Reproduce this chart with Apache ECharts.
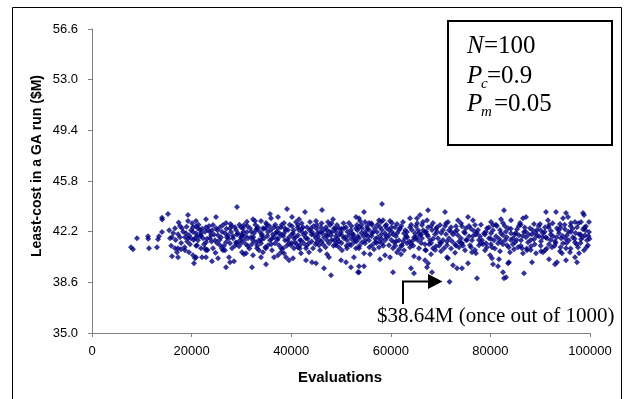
<!DOCTYPE html>
<html>
<head>
<meta charset="utf-8">
<script src="https://cdn.jsdelivr.net/npm/echarts@6/dist/echarts.min.js"></script>
<style>
html,body{margin:0;padding:0;background:#fff;}
#chart{width:625px;height:399px;}
</style>
</head>
<body>
<div id="chart"></div>
<script>
// Tick labels
const xTicks = [0, 20000, 40000, 60000, 80000, 100000];
const yTicks = ['35.0', '38.6', '42.2', '45.8', '49.4', '53.0', '56.6'];
const yBase = 35.0;
const yStep = 3.6;

// [evaluations, least cost ($M)]
const leastCostRuns = [
[7830,41.10],[8230,40.95],[9040,41.74],[11240,41.88],[11300,41.70],[11450,41.02],[13050,41.10],[13250,41.67],[13450,41.88],[14060,42.17],
[14060,43.18],[14100,43.06],[15260,43.45],[15660,41.74],[16060,41.81],[16670,42.45],[16670,41.02],[17070,40.74],[17270,41.02],[17270,42.02],
[17670,42.60],[17670,41.81],[17870,40.95],[18070,42.45],[16060,40.45],[17270,40.38],
[29120,43.95],[19280,43.38],[19280,42.95],[20880,42.95],[22890,43.09],[24900,43.24],[20280,42.52],[20880,42.59],[21290,42.45],[20280,42.17],
[20880,42.09],[21690,42.31],[22890,42.52],[23290,42.31],[23690,42.17],[18880,42.09],[18670,41.81],[19280,41.74],[19880,41.74],[20680,41.74],
[21290,41.59],[21890,41.95],[22290,41.74],[22890,41.45],[23690,41.74],[23900,41.95],[18670,40.88],[19480,40.74],[20280,40.52],[20880,40.38],
[20680,40.31],[20480,39.95],[21890,41.02],[22690,41.02],[22890,40.88],[22090,40.38],[22890,40.38],[24300,41.02],[24100,40.10],[25300,40.31],
[26910,39.67],[27710,40.02],[26710,40.88],[25700,42.52],[26310,42.67],[26910,42.81],[25300,41.95],[25900,41.81],[26710,42.09],[27310,41.95],
[27710,42.45],[27910,42.17],[28710,42.52],[28920,42.31],[29320,42.09],[28310,41.74],[28920,41.45],[29720,41.59],[29920,41.81],[26910,41.45],
[27710,41.38],[29920,42.52],[21690,41.88],[19680,41.31],[21090,41.24],[24700,41.59],[24900,42.45],[24300,42.67],[25700,41.24],[26310,40.88],
[28110,41.02],[29520,41.17],[30120,40.74],[27510,40.38],[28510,40.10],
[39160,43.81],[35740,43.45],[35940,43.16],[37350,43.24],[40160,43.24],[32330,43.09],[32730,42.95],[33940,42.95],[34940,42.81],[38550,42.81],
[40960,42.88],[41370,42.67],[30520,42.67],[30320,42.45],[33330,42.52],[32930,42.31],[32530,42.09],[31930,41.81],[31320,41.74],[30520,41.59],
[34940,42.45],[35340,42.17],[35940,42.31],[36550,42.52],[37350,42.45],[37950,42.52],[32330,41.59],[32930,41.45],[33530,41.59],[33940,41.38],
[34540,41.74],[36550,41.81],[37350,41.74],[37950,41.95],[38550,42.09],[39360,42.31],[39560,41.81],[40360,42.09],[40560,41.74],[41370,41.95],
[41570,42.31],[30920,40.67],[30520,40.60],[32330,40.52],[33530,40.88],[33940,40.38],[34940,41.02],[35340,41.24],[36550,40.38],[37350,40.52],
[37950,40.74],[38550,40.67],[38960,40.38],[39560,40.17],[40360,40.31],[32130,39.67],[34940,39.88],[39960,41.24],[40560,41.02],[41370,41.10],
[31120,42.17],[31730,42.45],[34140,42.02],[34340,42.45],[35740,41.59],[36750,41.38],[37550,41.24],[38760,41.59],[39560,41.38],[40760,41.45],
[41770,41.59],[36950,42.09],[38760,42.45],[40160,42.59],[31320,41.17],[33130,41.02],[34340,40.74],[36140,40.88],[38350,41.02],[30120,42.02],
[30920,41.31],
[46180,43.74],[42770,43.59],[48390,43.09],[53010,43.24],[41570,43.09],[44980,42.95],[45180,42.67],[45980,42.52],[46990,42.52],[47190,42.31],
[43170,42.52],[43980,42.45],[44180,42.17],[44580,41.95],[44980,41.74],[45180,41.45],[45580,41.24],[42170,42.17],[42570,41.95],[42970,41.74],
[41970,41.59],[46180,42.09],[46590,41.81],[47190,41.59],[47590,41.38],[47990,41.95],[48190,42.17],[48590,42.45],[49200,42.67],[49600,42.45],
[50000,42.17],[50200,41.95],[50600,41.74],[51000,42.52],[51600,42.81],[52000,42.31],[52200,42.09],[52600,41.81],[53000,42.45],[53200,42.67],
[49000,41.24],[49600,41.10],[50200,40.88],[51200,41.02],[52000,41.24],[53000,41.02],[41970,40.67],[42970,41.02],[43570,40.74],[42970,40.17],
[44180,40.02],[44980,39.95],[47190,40.60],[47590,40.38],[46590,39.60],[47990,39.10],[50000,40.17],[51000,40.02],[52000,39.67],[52600,40.38],
[53410,39.31],[41770,41.24],[43570,41.38],[44380,41.02],[45780,40.88],[46390,41.31],[48590,41.59],[49000,41.88],[49600,41.52],[51200,41.59],
[51600,41.95],[52600,41.45],[53410,41.88],[42370,42.52],[43780,42.88],[47390,42.88],[50600,42.45],[45780,42.17],[45380,41.88],[49000,42.17],
[47790,42.67],
[58230,44.16],[54620,43.59],[57630,43.02],[58030,42.88],[58430,43.02],[59840,42.95],[60240,42.81],[63850,43.16],[53610,43.16],[53810,42.95],
[54820,42.88],[55620,42.81],[56220,42.67],[53610,42.52],[54220,42.45],[54820,42.17],[55620,42.31],[56220,42.09],[56830,42.45],[57230,42.17],
[57830,42.52],[58230,42.31],[58830,42.09],[59240,42.45],[59640,41.95],[60240,42.17],[60840,42.52],[61650,42.31],[61850,42.45],[62650,42.09],
[63250,42.17],[63850,42.52],[64260,42.31],[64660,41.81],[64860,42.09],[53610,41.74],[54220,41.45],[54820,41.38],[55620,41.59],[56220,41.24],
[56830,41.45],[57630,41.10],[58230,41.38],[58830,41.59],[59640,41.24],[60640,41.45],[61650,41.59],[62250,41.24],[63250,41.38],[63850,41.10],
[54620,40.67],[55820,40.60],[57830,40.24],[58830,40.52],[59840,40.38],[61250,40.74],[62050,40.60],[64660,40.45],[53610,41.02],[53610,39.74],
[54620,39.74],[53610,39.31],[60440,39.31],[64060,39.60],[64660,39.24],[55420,41.88],[57430,41.81],[59040,41.88],[61050,41.88],[62850,41.74],
[64260,41.52],[56630,40.95],[60440,41.02],[62650,40.88],[55220,42.59],[61250,42.74],[62450,42.88],
[67470,43.73],[70880,43.59],[65860,43.38],[65260,43.16],[71480,42.88],[73490,43.02],[75500,43.24],[66260,42.67],[66460,42.88],[67270,43.02],
[68470,42.81],[69280,42.52],[69880,42.67],[65460,42.31],[65860,41.95],[65460,41.59],[66260,41.74],[66870,42.17],[67470,41.88],[67870,41.59],
[66870,41.31],[68270,42.31],[68870,42.02],[69480,41.74],[69880,41.45],[69080,41.17],[70480,42.31],[71080,42.02],[71690,41.74],[72290,41.52],
[71280,41.24],[72890,42.17],[73490,41.95],[74090,41.74],[74700,42.17],[75100,42.45],[75700,41.88],[76300,41.59],[75900,41.24],[76710,42.24],
[72090,42.52],[73090,42.59],[74300,42.59],[65660,41.02],[67070,40.88],[68470,41.02],[70080,40.81],[70680,41.02],[73690,41.10],[74900,40.88],
[76300,40.74],[67470,42.52],[65060,42.59],[72890,41.31],[74300,41.38],[68070,40.60],[65660,40.31],[66870,40.17],[71280,40.38],[71480,40.31],
[67470,39.95],[67270,39.67],[68270,39.31],[72490,39.81],[74300,39.60],[73290,39.60],[75500,39.95],[71800,38.64],
[82730,43.73],[91160,43.59],[93170,43.59],[95180,43.52],[95580,43.24],[98590,43.52],[98790,43.38],[87150,43.24],[86540,43.16],[99800,42.88],
[82130,43.09],[82530,42.81],[84140,43.02],[80120,42.88],[80520,42.67],[76500,43.02],[76910,42.67],[88750,42.74],[91560,43.02],[91770,42.67],
[94580,43.16],[96180,42.81],[98190,42.88],[77310,38.89],[80320,40.31],[81730,40.24],[80520,39.88],[81530,39.74],[83530,39.95],[83730,40.02],
[82530,39.31],[82730,38.89],[84740,40.95],[86340,41.02],[86540,40.67],[86750,39.24],[88350,40.02],[90160,40.81],[90560,40.74],[91770,40.24],
[92970,39.88],[93370,40.02],[95180,40.17],[96990,40.38],[97790,40.67],[83130,38.96],[97390,40.02],[94380,40.67],
[77510,42.31],[77910,41.88],[78310,41.59],[77710,41.24],[78710,42.09],[79320,42.45],[79720,41.74],[79120,41.38],[80120,42.09],[80720,41.59],
[81120,41.88],[80320,41.10],[81530,41.38],[81930,42.31],[82530,41.95],[82930,41.59],[83330,41.24],[83530,42.45],[84140,42.09],[84540,41.74],
[84940,41.45],[85340,42.38],[85740,41.95],[86140,41.59],[85540,41.10],[86750,42.17],[87150,41.81],[87550,41.45],[87950,42.45],[88350,42.02],
[88750,41.67],[88150,41.17],[89360,42.31],[89760,41.88],[90160,41.52],[90560,42.09],[90960,42.52],[91360,41.74],[91770,41.31],[92170,42.24],
[92570,41.88],[92970,41.52],[92370,41.10],[93370,42.45],[93770,42.09],[94180,41.74],[94580,41.38],[94980,42.38],[95380,41.95],[95780,41.59],
[95180,41.02],[96180,42.17],[96580,41.81],[96990,41.45],[97390,42.52],[97790,42.02],[98190,41.67],[97590,41.10],[98590,42.38],[98990,41.95],
[99390,41.59],[99800,42.17],[99590,41.24],[99190,42.59],[83930,40.74],[87350,40.88],[89160,40.67],[90960,40.88],[93970,40.81],[95980,40.74],
[98790,40.88],[81930,40.81],[78910,40.88],[77100,40.67],[79920,40.52],[85940,42.81],[89960,42.74],[93970,42.74],[96990,42.88],
[15500,42.30],[15900,41.20],[16300,42.10],[16800,41.60],[17400,42.85],[17900,41.40],[18300,42.20],[18600,41.10],[19000,42.55],[19500,41.95],
[19900,42.30],[20400,41.60],[20900,41.20],[21400,42.70],[21900,42.10],[22500,41.30],[22700,42.20],[23200,40.90],[23500,42.60],[24000,41.50],
[24500,42.00],[24800,40.70],[25200,42.30],[25600,41.60],[26100,42.20],[26500,41.20],[27000,42.40],[27400,41.70],[27800,42.75],[28300,41.90],
[28700,41.20],[29100,42.00],[29600,42.70],[30000,41.40],[30400,42.20],[30800,41.90],[31200,42.60],[31600,41.00],[32000,42.20],[32400,41.80],
[32800,42.70],[33200,41.20],[33700,42.20],[34000,41.60],[34500,42.40],[34800,41.10],[35200,41.90],[35600,42.60],[36000,41.30],[36300,42.00],
[36800,42.70],[37200,41.60],[37600,42.10],[38000,41.00],[38400,41.90],[38900,42.30],[39300,41.60],[39700,42.70],[40100,41.40],[40500,42.30],
[40900,41.80],[41300,42.50],[41700,41.00],[42100,42.40],[42500,41.40],[42900,42.10],[43300,41.70],[43700,42.30],[44100,41.50],[44500,42.60],
[44900,41.30],[45300,42.10],[45700,41.60],[46100,42.80],[46500,42.30],[46900,41.10],[47300,41.90],[47700,42.20],[48100,41.60],[48500,41.20],
[48900,42.40],[49300,41.70],[49700,42.00],[50100,41.40],[50500,42.80],[50900,41.80],[51300,42.20],[51700,41.30],[52100,42.60],[52500,42.00],
[52900,41.60],[53300,42.30],[53700,41.20],[54100,42.10],[54500,41.90],[54900,41.60],[55300,42.40],[55700,41.10],[56100,41.90],[56500,42.20],
[56900,41.70],[57300,42.70],[57700,41.50],[58100,42.00],[58500,41.20],[58900,42.60],[59300,41.80],[59700,42.30],[60100,41.60],[60500,42.00],
[60900,41.20],[61300,42.10],[61700,40.95],[62100,42.60],[62500,41.50],[62900,42.30],[63300,41.80],[63700,41.50],[64100,42.70],[64500,41.20],
[64900,41.70],[65300,42.80],[65700,42.10],[66100,41.40],[66500,42.30],[66900,40.90],[67300,42.00],[67700,41.30],[68100,42.60],[68500,41.70],
[68900,40.90],[69300,42.20],[69700,41.20],[70100,42.10],[70500,41.60],[70900,42.60],[71300,41.50],[71700,42.30],[72100,41.00],[72500,42.00],
[72900,40.70],[73300,42.30],[73700,41.50],[74100,42.80],[74500,41.20],[74900,42.10],[75300,41.60],[75700,42.60],[76100,41.10],[76500,41.90],
[76900,40.90],[77300,42.10],[77700,41.60],[78100,42.70],[78500,41.30],[78900,42.00],[79300,41.10],[79700,42.50],[80100,41.30],[80500,42.30],
[80900,41.00],[81300,42.60],[81700,41.70],[82100,42.10],[82500,41.30],[82900,42.60],[83300,41.80],[83700,41.10],[84100,42.40],[84500,41.30],
[84900,42.00],[85300,41.60],[85700,42.60],[86100,41.20],[86500,41.90],[86900,42.50],[87300,41.00],[87700,42.00],[88100,41.60],[88500,42.30],
[88900,41.30],[89300,41.90],[89700,42.60],[90100,41.20],[90500,41.80],[90900,42.20],[91300,41.00],[91700,42.50],[92100,41.60],[92500,42.80],
[92900,41.20],[93300,41.80],[93700,42.30],[94100,41.10],[94500,41.90],[94900,42.70],[95300,41.40],[95700,42.20],[96100,41.00],[96500,42.40],
[96900,41.70],[97300,41.30],[97700,42.80],[98100,41.40],[98500,41.80],[98900,42.50],[99300,41.10],[99700,41.90],
[19100,41.50],[20100,42.80],[21100,41.90],[22100,42.40],[23100,41.70],[24100,42.30],[25100,41.40],[26100,41.00],[27100,41.80],[28100,42.60],
[29100,41.40],[30100,41.90],[31100,42.90],[32100,41.30],[33100,42.40],[34100,41.90],[35100,42.70],[36100,41.70],[37100,42.20],[38100,42.70],
[39100,41.20],[40100,42.00],[41100,41.30],[42100,42.80],[43100,41.20],[44100,42.00],[45100,42.40],[46100,41.50],[47100,42.00],[48100,42.80],
[49100,41.40],[50100,42.40],[51100,41.20],[52100,41.70],[53100,41.50],[54100,42.70],[55100,42.00],[56100,42.80],[57100,41.40],[58100,41.70],
[59100,42.70],[60100,42.50],[61100,41.50],[62100,41.20],[63100,41.90],[64100,41.30],[65100,41.80],[66100,42.00],[67100,42.20],[68100,41.40],
[69100,42.40],[70100,41.40],[71100,42.80],[72100,42.20],[73100,41.20],[74100,41.40],[75100,41.60],[76100,42.40],[77100,42.00],[78100,41.40],
[79100,42.20],[80100,41.70],[81100,42.70],[82100,41.50],[83100,42.20],[84100,41.60],[85100,42.10],[86100,42.70],[87100,42.20],[88100,40.90],
[89100,42.10],[90100,42.30],[91100,41.80],[92100,42.00],[93100,41.40],[94100,42.50],[95100,41.70],[96100,42.60],[97100,42.10],[98100,42.00],
[99100,42.30],[99900,41.70]
];

const chart = echarts.init(document.getElementById('chart'), null, {renderer: 'canvas'});
const seriesData = leastCostRuns.map(p => [p[0], p[1] - yBase]);

chart.setOption({
  animation: false,
  backgroundColor: '#ffffff',
  grid: {left: 92, right: 35, top: 29, bottom: 66, containLabel: false},
  xAxis: {
    type: 'value', min: xTicks[0], max: xTicks[xTicks.length - 1], interval: xTicks[1] - xTicks[0],
    axisLine: {show: true, lineStyle: {color: '#808080', width: 1}},
    axisTick: {show: true, inside: false, length: 4, lineStyle: {color: '#808080'}},
    axisLabel: {color: '#000', fontFamily: 'Liberation Sans, Arial', fontSize: 13, margin: 12,
      formatter: v => String(Math.round(v))},
    splitLine: {show: false}
  },
  yAxis: {
    type: 'value', min: 0, max: yStep * (yTicks.length - 1), interval: yStep,
    axisLine: {show: true, lineStyle: {color: '#808080', width: 1}},
    axisTick: {show: true, inside: false, length: 4, lineStyle: {color: '#808080'}},
    axisLabel: {color: '#000', fontFamily: 'Liberation Sans, Arial', fontSize: 13, margin: 14,
      formatter: (v) => yTicks[Math.round(v / yStep)]},
    splitLine: {show: false}
  },
  series: [{
    type: 'scatter', symbol: 'diamond', symbolSize: 6, silent: true,
    itemStyle: {color: '#000080'},
    data: seriesData
  }],
  graphic: [
    {type: 'rect', shape: {x: 12.5, y: 7.5, width: 609, height: 400}, style: {fill: 'none', stroke: '#000', lineWidth: 1}, silent: true, z: 0},
    {type: 'rect', shape: {x: 448, y: 21, width: 164, height: 124}, style: {fill: '#fff', stroke: '#000', lineWidth: 2}, silent: true},
    {type: 'text', x: 467, y: 46, style: {text: 'N', font: 'italic 25px "Liberation Serif"', fill: '#000', verticalAlign: 'middle'}},
    {type: 'text', x: 484, y: 46, style: {text: '=100', font: '25px "Liberation Serif"', fill: '#000', verticalAlign: 'middle'}},
    {type: 'text', x: 467, y: 76, style: {text: 'P', font: 'italic 25px "Liberation Serif"', fill: '#000', verticalAlign: 'middle'}},
    {type: 'text', x: 481, y: 84, style: {text: 'c', font: 'italic 15px "Liberation Serif"', fill: '#000', verticalAlign: 'middle'}},
    {type: 'text', x: 487, y: 76, style: {text: '=0.9', font: '25px "Liberation Serif"', fill: '#000', verticalAlign: 'middle'}},
    {type: 'text', x: 467, y: 104, style: {text: 'P', font: 'italic 25px "Liberation Serif"', fill: '#000', verticalAlign: 'middle'}},
    {type: 'text', x: 481, y: 112, style: {text: 'm', font: 'italic 15px "Liberation Serif"', fill: '#000', verticalAlign: 'middle'}},
    {type: 'text', x: 494, y: 104, style: {text: '=0.05', font: '25px "Liberation Serif"', fill: '#000', verticalAlign: 'middle'}},
    {type: 'polyline', shape: {points: [[403, 304], [403, 281.5], [430, 281.5]]}, style: {stroke: '#000', lineWidth: 2, fill: 'none'}, silent: true},
    {type: 'polygon', shape: {points: [[428, 274], [442.5, 281.5], [428, 289]]}, style: {fill: '#000'}, silent: true},
    {type: 'text', x: 377, y: 316, style: {text: '$38.64M (once out of 1000)', font: '21px "Liberation Serif"', fill: '#000', verticalAlign: 'middle'}},
    {type: 'text', x: 340, y: 378, style: {text: 'Evaluations', font: 'bold 15px "Liberation Sans"', fill: '#000', align: 'center', verticalAlign: 'middle'}},
    {type: 'text', x: 37.5, y: 166, rotation: Math.PI / 2, style: {text: 'Least-cost in a GA run ($M)', font: 'bold 14px "Liberation Sans"', fill: '#000', align: 'center', verticalAlign: 'middle'}}
  ]
});
</script>
</body>
</html>
